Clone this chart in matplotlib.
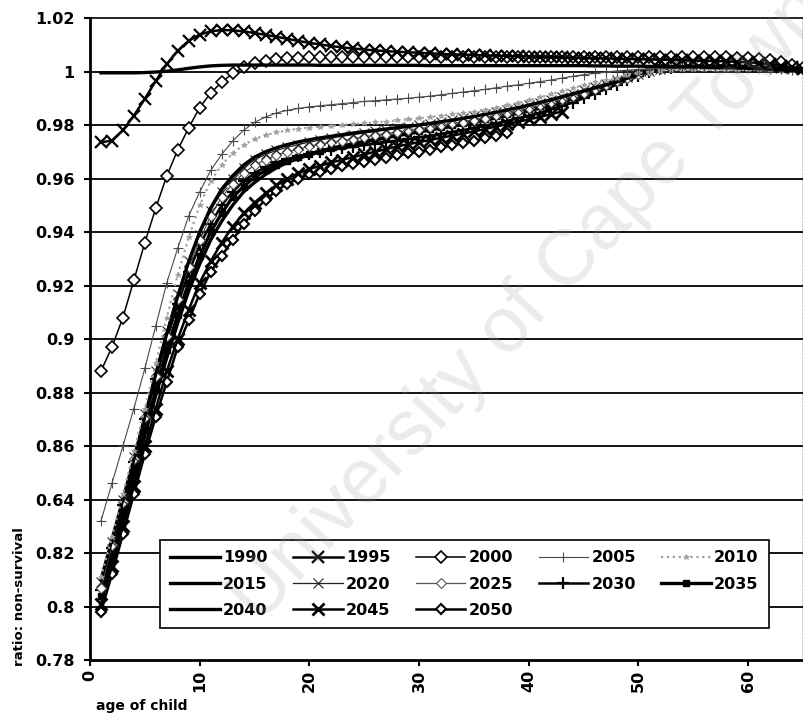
import matplotlib
matplotlib.use('Agg')
import matplotlib.pyplot as plt
from matplotlib.lines import Line2D
import numpy as np

plt.rcParams['font.family'] = ['DejaVu Sans']
plt.rcParams['font.weight'] = 'bold'

# ---- data (ratio by age of child, one list per year) ----
ages = list(range(1, 66))

y1990 = [0.9995, 0.9995, 0.9995, 0.9995, 0.9996, 0.9998, 1.0001, 1.0006, 1.0012, 1.0017,
         1.0021, 1.0023, 1.0024, 1.0024, 1.0024, 1.0024, 1.0024, 1.0024, 1.0024, 1.0024,
         1.0023, 1.0023, 1.0023, 1.0023, 1.0023, 1.0023, 1.0023, 1.0023, 1.0023, 1.0023,
         1.0022, 1.0022, 1.0022, 1.0022, 1.0022, 1.0022, 1.0022, 1.0022, 1.0022, 1.0022,
         1.0022, 1.0022, 1.0022, 1.0022, 1.0022, 1.0021, 1.0021, 1.0020, 1.0020, 1.0020,
         1.0019, 1.0019, 1.0018, 1.0018, 1.0017, 1.0016, 1.0015, 1.0014, 1.0013, 1.0012,
         1.0010, 1.0008, 1.0006, 1.0004, 1.0002]

y1995 = [0.9735, 0.9742, 0.9780, 0.9835, 0.9898, 0.9965, 1.0028, 1.0078, 1.0115, 1.0138,
         1.0150, 1.0155, 1.0154, 1.0150, 1.0144, 1.0137, 1.0130, 1.0122, 1.0114, 1.0107,
         1.0101, 1.0095, 1.0090, 1.0086, 1.0082, 1.0079, 1.0076, 1.0074, 1.0072, 1.0070,
         1.0068, 1.0066, 1.0064, 1.0063, 1.0062, 1.0060, 1.0059, 1.0058, 1.0057, 1.0056,
         1.0055, 1.0054, 1.0053, 1.0052, 1.0051, 1.0050, 1.0049, 1.0048, 1.0047, 1.0046,
         1.0045, 1.0044, 1.0043, 1.0042, 1.0041, 1.0040, 1.0039, 1.0038, 1.0036, 1.0034,
         1.0031, 1.0027, 1.0022, 1.0016, 1.0010]

y2000 = [0.8880, 0.8970, 0.9080, 0.9220, 0.9360, 0.9490, 0.9610, 0.9707, 0.9790, 0.9865,
         0.9920, 0.9960, 0.9993, 1.0015, 1.0030, 1.0040, 1.0046, 1.0050, 1.0052, 1.0053,
         1.0054, 1.0054, 1.0054, 1.0054, 1.0054, 1.0054, 1.0054, 1.0054, 1.0054, 1.0054,
         1.0054, 1.0054, 1.0054, 1.0054, 1.0054, 1.0054, 1.0054, 1.0054, 1.0054, 1.0054,
         1.0054, 1.0054, 1.0054, 1.0055, 1.0055, 1.0055, 1.0055, 1.0055, 1.0055, 1.0055,
         1.0055, 1.0055, 1.0055, 1.0055, 1.0055, 1.0054, 1.0054, 1.0053, 1.0052, 1.0050,
         1.0047, 1.0042, 1.0035, 1.0025, 1.0012]

y2005 = [0.8320, 0.8460, 0.8600, 0.8740, 0.8890, 0.9050, 0.9210, 0.9340, 0.9460, 0.9550,
         0.9630, 0.9690, 0.9740, 0.9780, 0.9810, 0.9830, 0.9845, 0.9855, 0.9862, 0.9868,
         0.9872, 0.9876, 0.9880, 0.9884, 0.9888, 0.9891, 0.9894, 0.9897, 0.9900, 0.9904,
         0.9908, 0.9913, 0.9918, 0.9923, 0.9928, 0.9933, 0.9939, 0.9945, 0.9950, 0.9956,
         0.9962, 0.9968, 0.9975, 0.9982, 0.9988, 0.9993, 0.9998, 1.0002, 1.0005, 1.0008,
         1.0010, 1.0012, 1.0013, 1.0014, 1.0015, 1.0015, 1.0015, 1.0015, 1.0014, 1.0013,
         1.0012, 1.0010, 1.0008, 1.0006, 1.0004]

y2010 = [0.8110, 0.8260, 0.8420, 0.8580, 0.8740, 0.8910, 0.9080, 0.9240, 0.9380, 0.9500,
         0.9590, 0.9650, 0.9695, 0.9725, 0.9748, 0.9762, 0.9772, 0.9780, 0.9786, 0.9790,
         0.9794, 0.9797, 0.9800, 0.9803, 0.9806, 0.9810, 0.9813, 0.9817, 0.9821, 0.9825,
         0.9830, 0.9835, 0.9840, 0.9845, 0.9850, 0.9857, 0.9865, 0.9873, 0.9882, 0.9892,
         0.9903, 0.9915, 0.9927, 0.9938, 0.9949, 0.9959, 0.9968, 0.9977, 0.9986, 0.9994,
         1.0000, 1.0004, 1.0007, 1.0009, 1.0010, 1.0011, 1.0011, 1.0011, 1.0011, 1.0010,
         1.0009, 1.0008, 1.0007, 1.0005, 1.0003]

y2015 = [0.8100, 0.8250, 0.8400, 0.8550, 0.8710, 0.8870, 0.9020, 0.9160, 0.9290, 0.9400,
         0.9490, 0.9560, 0.9610, 0.9650, 0.9680, 0.9700, 0.9715, 0.9727, 0.9737, 0.9745,
         0.9752, 0.9758, 0.9764, 0.9770, 0.9775, 0.9780, 0.9785, 0.9790, 0.9795, 0.9800,
         0.9806, 0.9812, 0.9818, 0.9825, 0.9832, 0.9840, 0.9848, 0.9856, 0.9865, 0.9874,
         0.9884, 0.9894, 0.9905, 0.9916, 0.9927, 0.9938, 0.9949, 0.9960, 0.9975, 0.9990,
         1.0002, 1.0010, 1.0015, 1.0018, 1.0020, 1.0021, 1.0021, 1.0021, 1.0020, 1.0019,
         1.0017, 1.0015, 1.0012, 1.0009, 1.0006]

y2020 = [0.8090, 0.8240, 0.8400, 0.8560, 0.8720, 0.8880, 0.9030, 0.9170, 0.9290, 0.9390,
         0.9480, 0.9550, 0.9600, 0.9640, 0.9670, 0.9690, 0.9705, 0.9717, 0.9727, 0.9736,
         0.9744, 0.9751, 0.9758, 0.9764, 0.9770, 0.9776, 0.9782, 0.9788, 0.9793, 0.9799,
         0.9805, 0.9811, 0.9818, 0.9825, 0.9832, 0.9840, 0.9848, 0.9856, 0.9865, 0.9874,
         0.9884, 0.9894, 0.9905, 0.9917, 0.9929, 0.9942, 0.9955, 0.9968, 0.9980, 0.9992,
         1.0003, 1.0011, 1.0016, 1.0020, 1.0022, 1.0023, 1.0023, 1.0023, 1.0022, 1.0021,
         1.0019, 1.0017, 1.0014, 1.0011, 1.0008]

y2025 = [0.8070, 0.8230, 0.8390, 0.8550, 0.8710, 0.8860, 0.9010, 0.9150, 0.9270, 0.9370,
         0.9460, 0.9530, 0.9580, 0.9620, 0.9650, 0.9670, 0.9687, 0.9700, 0.9710, 0.9720,
         0.9728, 0.9735, 0.9742, 0.9749, 0.9756, 0.9762, 0.9768, 0.9774, 0.9780, 0.9786,
         0.9792, 0.9799, 0.9806, 0.9813, 0.9820, 0.9828, 0.9836, 0.9845, 0.9854, 0.9864,
         0.9874, 0.9885, 0.9896, 0.9908, 0.9921, 0.9935, 0.9949, 0.9963, 0.9977, 0.9990,
         1.0002, 1.0010, 1.0016, 1.0020, 1.0022, 1.0023, 1.0023, 1.0023, 1.0022, 1.0021,
         1.0019, 1.0017, 1.0014]

y2030 = [0.8060, 0.8220, 0.8380, 0.8540, 0.8700, 0.8850, 0.9000, 0.9130, 0.9250, 0.9350,
         0.9430, 0.9500, 0.9550, 0.9590, 0.9620, 0.9643, 0.9660, 0.9673, 0.9683, 0.9692,
         0.9700, 0.9707, 0.9713, 0.9719, 0.9725, 0.9730, 0.9736, 0.9742, 0.9748, 0.9754,
         0.9760, 0.9767, 0.9774, 0.9781, 0.9789, 0.9797, 0.9806, 0.9815, 0.9825, 0.9835,
         0.9846, 0.9858, 0.9870, 0.9884, 0.9900, 0.9917, 0.9934, 0.9950, 0.9967, 0.9984,
         0.9998, 1.0008, 1.0014, 1.0018, 1.0020, 1.0020, 1.0020, 1.0020]

y2035 = [0.8040, 0.8190, 0.8350, 0.8500, 0.8660, 0.8810, 0.8960, 0.9090, 0.9210, 0.9310,
         0.9400, 0.9470, 0.9530, 0.9570, 0.9605, 0.9630, 0.9650, 0.9667, 0.9680, 0.9692,
         0.9703, 0.9713, 0.9722, 0.9730, 0.9738, 0.9746, 0.9754, 0.9762, 0.9770, 0.9777,
         0.9785, 0.9792, 0.9800, 0.9808, 0.9816, 0.9824, 0.9833, 0.9842, 0.9851, 0.9860,
         0.9870, 0.9880, 0.9892, 0.9905, 0.9920, 0.9935, 0.9950, 0.9965, 0.9980, 0.9995,
         1.0008, 1.0015, 1.0018]

y2040 = [0.8030, 0.8180, 0.8330, 0.8480, 0.8640, 0.8790, 0.8930, 0.9060, 0.9180, 0.9280,
         0.9370, 0.9440, 0.9500, 0.9550, 0.9585, 0.9615, 0.9640, 0.9660, 0.9675, 0.9688,
         0.9700, 0.9710, 0.9720, 0.9728, 0.9736, 0.9744, 0.9752, 0.9760, 0.9767, 0.9774,
         0.9781, 0.9788, 0.9795, 0.9802, 0.9810, 0.9818, 0.9826, 0.9835, 0.9844, 0.9853,
         0.9863, 0.9873, 0.9884, 0.9898, 0.9913, 0.9928, 0.9943, 0.9957]

y2045 = [0.8010, 0.8150, 0.8300, 0.8450, 0.8600, 0.8740, 0.8880, 0.9000, 0.9110, 0.9210,
         0.9290, 0.9360, 0.9420, 0.9470, 0.9510, 0.9545, 0.9575, 0.9600, 0.9620, 0.9635,
         0.9648, 0.9660, 0.9670, 0.9680, 0.9690, 0.9700, 0.9710, 0.9720, 0.9728, 0.9736,
         0.9744, 0.9752, 0.9760, 0.9768, 0.9776, 0.9785, 0.9794, 0.9803, 0.9812, 0.9821,
         0.9830, 0.9840, 0.9850]

y2050 = [0.7980, 0.8120, 0.8270, 0.8420, 0.8570, 0.8710, 0.8840, 0.8970, 0.9070, 0.9170,
         0.9250, 0.9310, 0.9370, 0.9430, 0.9480, 0.9520, 0.9555, 0.9580, 0.9600, 0.9615,
         0.9625, 0.9635, 0.9645, 0.9655, 0.9663, 0.9670, 0.9678, 0.9686, 0.9694, 0.9700,
         0.9708, 0.9716, 0.9724, 0.9732, 0.9740, 0.9750, 0.9760, 0.9770]

years = ['1990', '1995', '2000', '2005', '2010', '2015', '2020',
         '2025', '2030', '2035', '2040', '2045', '2050']
series = [y1990, y1995, y2000, y2005, y2010, y2015, y2020,
          y2025, y2030, y2035, y2040, y2045, y2050]

y_ticks = [0.78, 0.80, 0.82, 0.84, 0.86, 0.88, 0.90, 0.92, 0.94, 0.96, 0.98, 1.00, 1.02]
y_labels = ['0.78', '0.8', '0.82', '0.64', '0.86', '0.88', '0.9', '0.92',
            '0.94', '0.96', '0.98', '1', '1.02']
x_ticks = [0, 10, 20, 30, 40, 50, 60]

# line look of each year (Excel b/w style)
styles = {
    '1990': dict(color='black', lw=2.4, marker=None),
    '1995': dict(color='black', lw=1.8, marker='x', ms=8.5, mew=1.6),
    '2000': dict(color='black', lw=1.1, marker='D', ms=6, mew=1.2, mfc='white'),
    '2005': dict(color='#4a4a4a', lw=0.8, marker='+', ms=7.5, mew=0.8),
    '2010': dict(color='#a0a0a0', lw=1.6, ls=':', marker='*', ms=4, mew=0.6),
    '2015': dict(color='black', lw=2.4, marker=None),
    '2020': dict(color='#222222', lw=0.9, marker='x', ms=6.5, mew=0.8),
    '2025': dict(color='#555555', lw=0.9, marker='D', ms=5, mew=0.8, mfc='white'),
    '2030': dict(color='black', lw=1.8, marker='+', ms=8.5, mew=1.6),
    '2035': dict(color='black', lw=2.4, marker='s', ms=4.5, mew=1),
    '2040': dict(color='black', lw=2.4, marker=None),
    '2045': dict(color='black', lw=1.8, marker='x', ms=8.5, mew=2),
    '2050': dict(color='black', lw=1.8, marker='D', ms=5, mew=1.5, mfc='white'),
}

fig = plt.figure(figsize=(8.04, 7.16), dpi=100)
ax = fig.add_axes([90 / 804, 56 / 716, 713 / 804, 642 / 716])

# horizontal black gridlines
for yv in y_ticks[1:-1]:
    ax.axhline(yv, color='black', lw=1.3, zorder=1)

handles = {}
for yr, vals in reversed(list(zip(years, series))):
    ln, = ax.plot(ages[:len(vals)], vals, label=yr, zorder=3, **styles[yr])
    handles[yr] = ln

ax.set_xlim(0, 65)
ax.set_ylim(0.78, 1.02)
ax.set_yticks(y_ticks)
ax.set_yticklabels(y_labels, fontsize=11.5, fontweight='bold')
ax.set_xticks(x_ticks)
ax.set_xticklabels([str(v) for v in x_ticks], rotation=90, fontsize=11.5,
                   fontweight='bold')
ax.tick_params(axis='y', direction='out', length=4, width=1.5, pad=7)
ax.tick_params(axis='x', direction='out', length=4, width=1.5, pad=3)

for s in ['left', 'bottom']:
    ax.spines[s].set_linewidth(2)
ax.spines['top'].set_linewidth(1.2)
ax.spines['right'].set_linewidth(1)
ax.spines['right'].set_linestyle(':')

# legend, row-major like the original (pad short columns with blanks)
blank = Line2D([], [], linestyle='none')
order = ['1990', '2015', '2040', '1995', '2020', '2045', '2000', '2025', '2050',
         '2005', '2030', None, '2010', '2035', None]
leg_h = [handles[k] if k else blank for k in order]
leg_l = [k if k else '' for k in order]
leg = ax.legend(leg_h, leg_l, ncol=5, loc='upper left',
                bbox_to_anchor=(0.098, 0.187),
                borderaxespad=0, fancybox=False, framealpha=1, edgecolor='black',
                prop=dict(size=11.5, weight='bold'), handlelength=3.1,
                handletextpad=0.2, labelspacing=0.7, borderpad=0.65,
                columnspacing=1.6)
leg.get_frame().set_linewidth(1.2)
leg.set_zorder(5)

fig.text(20 / 804, 1 - 597 / 716, 'ratio: non-survival', rotation=90,
         ha='center', va='center', fontsize=9.5, fontweight='bold')
fig.text(142 / 804, 1 - 706 / 716, 'age of child', ha='center', va='center',
         fontsize=10, fontweight='bold')

# scan watermark
fig.text(530 / 804, 1 - 305 / 716, 'University of Cape Town', rotation=47,
         ha='center', va='center', fontsize=56, family='Liberation Sans',
         fontweight='normal', color='#9a9a9a', alpha=0.2, zorder=10)

fig.savefig('out.png', dpi=100)
